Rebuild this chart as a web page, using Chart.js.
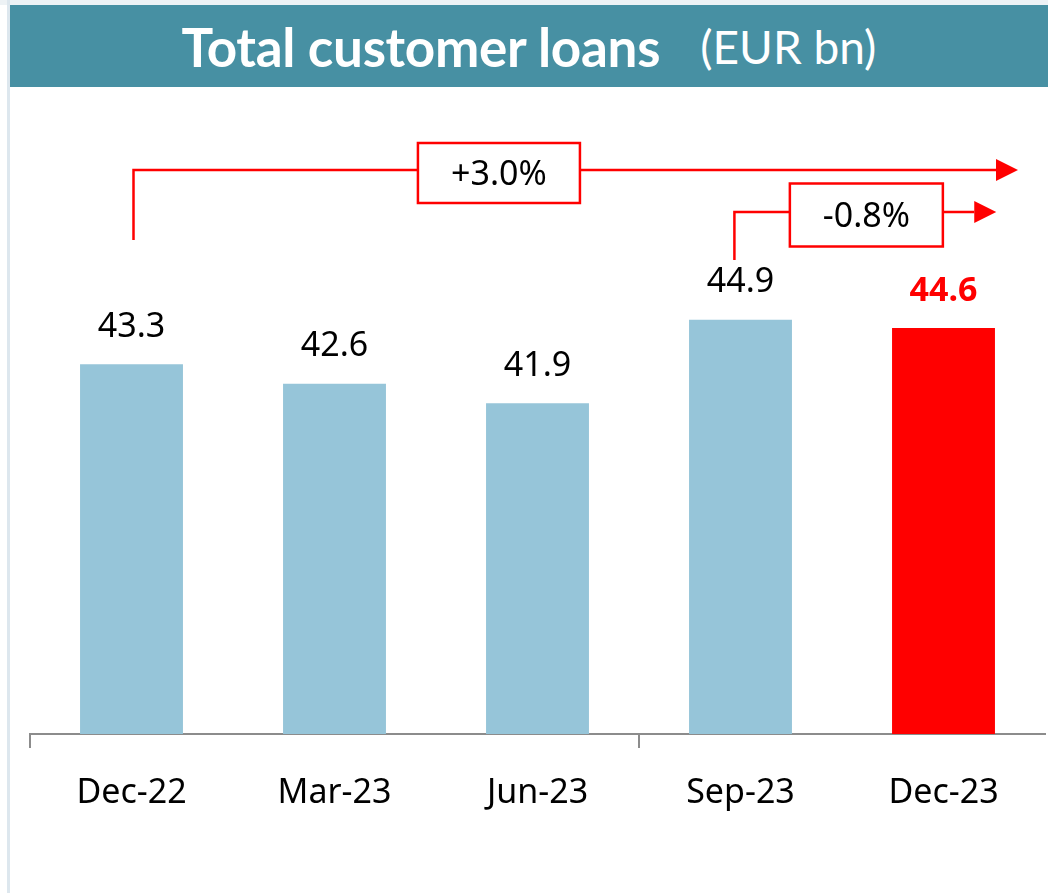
<!DOCTYPE html>
<html>
<head>
<meta charset="utf-8">
<script src="https://cdn.jsdelivr.net/npm/chart.js@4.4.0/dist/chart.umd.min.js"></script>
<style>
  body { margin: 0; width: 1048px; height: 893px; overflow: hidden; background: #fff; position: relative; }
  #topStrip { position: absolute; left: 0; top: 0; width: 1048px; height: 5px; background: #edf2f5; }
  #leftRule { position: absolute; left: 7px; top: 0; width: 3px; height: 893px; background: #dde7ee; }
  #title {
    position: absolute; left: 10px; top: 5px; width: 1038px; height: 82px;
    background: #4790a3; color: #fff;
    display: flex; align-items: center; justify-content: center;
    font-family: Lato, sans-serif; white-space: nowrap;
  }
  #title .main { font-weight: bold; font-size: 53px; letter-spacing: -0.3px; }
  #title .unit { font-size: 46px; margin-left: 40px; }
  #wrap { position: absolute; left: 10px; top: 88px; width: 1038px; height: 805px; }
</style>
</head>
<body>
<div id="topStrip"></div>
<div id="leftRule"></div>
<div id="title"><span class="main">Total customer loans</span><span class="unit">(EUR bn)</span></div>
<div id="wrap"><canvas id="chart"></canvas></div>

<script>

// chart data
const categories = ["Dec-22", "Mar-23", "Jun-23", "Sep-23", "Dec-23"];
const loans = [43.3, 42.6, 41.9, 44.9, 44.6];
const growthLabels = ["+3.0%", "-0.8%"];

const BLUE = "#96c5d9";
const RED = "#ff0000";


// value labels above the bars
const valueLabels = {
    id: "valueLabels",
    afterDatasetsDraw(chart) {
        const ctx = chart.ctx;
        const bars = chart.getDatasetMeta(0).data;
        ctx.save();
        ctx.textAlign = "center";
        ctx.textBaseline = "middle";
        bars.forEach(function (bar, i) {
            const last = i === bars.length - 1;
            ctx.fillStyle = last ? RED : "#000";
            ctx.font = (last ? "bold " : "") + "34px 'Noto Sans'";
            ctx.fillText(loans[i].toFixed(1), bar.x, bar.y - 37);
        });
        ctx.restore();
    }
};


function drawBracket(ctx, xStart, yBottom, yLine, xTip, headLen, headHalf, boxX, boxW, boxH, text) {
    ctx.beginPath();
    ctx.moveTo(xStart, yBottom);
    ctx.lineTo(xStart, yLine);
    ctx.lineTo(xTip - headLen, yLine);
    ctx.stroke();

    ctx.beginPath();
    ctx.moveTo(xTip, yLine);
    ctx.lineTo(xTip - headLen, yLine - headHalf);
    ctx.lineTo(xTip - headLen, yLine + headHalf);
    ctx.closePath();
    ctx.fill();

    const bx = boxX - boxW / 2;
    const by = yLine - boxH / 2 + 3;
    ctx.fillStyle = "#fff";
    ctx.fillRect(bx, by, boxW, boxH);
    ctx.strokeRect(bx, by, boxW, boxH);

    ctx.fillStyle = "#000";
    ctx.fillText(text, boxX, yLine + 5);
    ctx.fillStyle = RED;
}


// growth brackets with arrows
const growthBrackets = {
    id: "growthBrackets",
    afterDraw(chart) {
        const ctx = chart.ctx;
        const x = chart.scales.x;
        const top = chart.chartArea.top;
        ctx.save();
        ctx.strokeStyle = RED;
        ctx.fillStyle = RED;
        ctx.lineWidth = 2.5;
        ctx.font = "34px 'Noto Sans'";
        ctx.textAlign = "center";
        ctx.textBaseline = "middle";

        drawBracket(ctx, x.getPixelForValue(0) + 2, top + 62, top - 8,
            x.getPixelForValue(4.367), 22, 11, x.getPixelForValue(1.81), 162, 60, growthLabels[0]);

        drawBracket(ctx, x.getPixelForValue(2.97), top + 82, top + 34,
            x.getPixelForValue(4.26), 22, 11, x.getPixelForValue(3.62), 153, 63, growthLabels[1]);

        ctx.restore();
    }
};


new Chart(document.getElementById("chart").getContext("2d"), {

    type: "bar",

    data: {
        labels: categories,
        datasets: [{
            data: loans,
            backgroundColor: loans.map((v, i) => i === loans.length - 1 ? RED : BLUE),
            barPercentage: 0.507,
            categoryPercentage: 1
        }]
    },

    options: {
        responsive: true,
        maintainAspectRatio: false,
        animation: false,
        layout: { padding: { left: 20, right: 3, top: 90, bottom: 59 } },
        plugins: {
            legend: { display: false },
            tooltip: { enabled: false }
        },
        scales: {
            y: { display: false, min: 30, max: 50 },
            x: {
                afterFit(scale) { scale.height = 100; },
                border: { display: true, color: "#8c8c8c", width: 2 },
                grid: {
                    drawOnChartArea: false,
                    drawTicks: true,
                    tickLength: 14,
                    lineWidth: 2,
                    color: (c) => [0, 3, 5].includes(c.index) ? "#8c8c8c" : "rgba(0,0,0,0)"
                },
                ticks: {
                    color: "#000",
                    padding: 25,
                    font: { family: "'Noto Sans'", size: 34 }
                }
            }
        }
    },

    plugins: [valueLabels, growthBrackets]

});

</script>
</body>
</html>
